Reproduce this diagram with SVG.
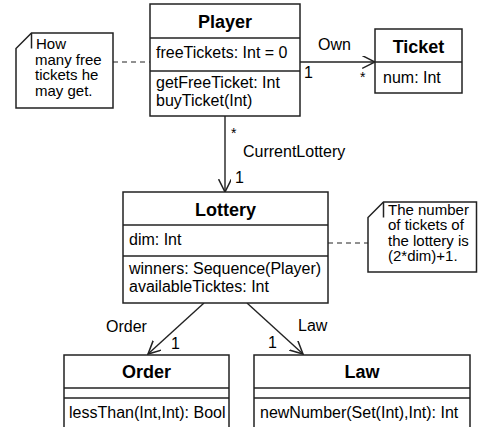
<svg xmlns="http://www.w3.org/2000/svg" width="479" height="427" viewBox="0 0 479 427">
<style>
  text { font-family: "Liberation Sans", Arial, Helvetica, sans-serif; font-size: 16px; fill: #000; }
  .title { font-weight: bold; font-size: 18px; text-anchor: middle; }
  .small { font-size: 14px; }
  .nt { font-size: 15px; }
  .box { fill: #fff; stroke: #222; stroke-width: 1.5; }
  .sep { stroke: #222; stroke-width: 1.5; fill: none; }
  .note { fill: #fff; stroke: #222; stroke-width: 1.5; }
  .conn { stroke: #222; stroke-width: 1.4; fill: none; }
  .dash { stroke: #222; stroke-width: 1; fill: none; stroke-dasharray: 5 4; }
</style>
<defs>
  <marker id="open" markerUnits="userSpaceOnUse" markerWidth="14" markerHeight="14" viewBox="0 0 12 12" refX="11" refY="5.5" orient="auto">
    <path d="M0,0 L11,5.5 L0,11" fill="none" stroke="#222" stroke-width="1.3"/>
  </marker>
</defs>
<rect width="479" height="427" fill="#fff"/>

<g id="connectors">
  <line class="conn" x1="300" y1="62" x2="375" y2="62" marker-end="url(#open)"/>
  <line class="conn" x1="225" y1="116" x2="225" y2="192" marker-end="url(#open)"/>
  <line class="conn" x1="204" y1="303" x2="148" y2="354" marker-end="url(#open)"/>
  <line class="conn" x1="247" y1="303" x2="303" y2="354" marker-end="url(#open)"/>
  <line class="dash" x1="113" y1="62" x2="150" y2="62"/>
  <line class="dash" x1="328" y1="243" x2="368" y2="243"/>
  <text x="318" y="50">Own</text>
  <text x="304" y="78">1</text>
  <text x="360" y="82" class="small">*</text>
  <text x="231" y="138" class="small">*</text>
  <text x="243" y="157">CurrentLottery</text>
  <text x="235" y="183">1</text>
  <text x="106" y="332">Order</text>
  <text x="171" y="349">1</text>
  <text x="298" y="331">Law</text>
  <text x="268" y="348">1</text>
</g>

<g id="note-player">
  <path class="note" d="M31.5,33 L113,33 L113,108 L16,108 L16,48.5 Z"/>
  <path class="sep" d="M31.5,33 V48.5" stroke-width="1"/>
  <text class="nt" x="36" y="49">How</text>
  <text class="nt" x="35" y="64.5">many free</text>
  <text class="nt" x="35" y="80">tickets he</text>
  <text class="nt" x="35" y="95.5">may get.</text>
</g>

<g id="Player">
  <rect class="box" x="150" y="4" width="150" height="112"/>
  <line class="sep" x1="150" y1="38" x2="300" y2="38"/>
  <line class="sep" x1="150" y1="71" x2="300" y2="71"/>
  <text class="title" x="225" y="28">Player</text>
  <text x="156" y="58">freeTickets: Int = 0</text>
  <text x="156" y="88">getFreeTicket: Int</text>
  <text x="156" y="106">buyTicket(Int)</text>
</g>

<g id="Ticket">
  <rect class="box" x="375" y="29" width="87" height="64"/>
  <line class="sep" x1="375" y1="62" x2="462" y2="62"/>
  <text class="title" x="418.5" y="53">Ticket</text>
  <text x="383" y="83">num: Int</text>
</g>

<g id="Lottery">
  <rect class="box" x="123" y="192" width="205" height="111"/>
  <line class="sep" x1="123" y1="225" x2="328" y2="225"/>
  <line class="sep" x1="123" y1="256" x2="328" y2="256"/>
  <text class="title" x="225.5" y="216">Lottery</text>
  <text x="129" y="245">dim: Int</text>
  <text x="129" y="274">winners: Sequence(Player)</text>
  <text x="129" y="292">availableTicktes: Int</text>
</g>

<g id="note-lottery">
  <path class="note" d="M383.5,202 L476.5,202 L476.5,272 L368,272 L368,217.5 Z"/>
  <path class="sep" d="M383.5,202 V217.5" stroke-width="1"/>
  <text class="nt" x="388" y="214.5">The number</text>
  <text class="nt" x="388" y="230">of tickets of</text>
  <text class="nt" x="388" y="245.5">the lottery is</text>
  <text class="nt" x="388" y="261">(2*dim)+1.</text>
</g>

<g id="Order">
  <rect class="box" x="64" y="355" width="165" height="80"/>
  <line class="sep" x1="64" y1="388" x2="229" y2="388"/>
  <line class="sep" x1="64" y1="398" x2="229" y2="398"/>
  <text class="title" x="146.5" y="378">Order</text>
  <text x="69" y="418">lessThan(Int,Int): Bool</text>
</g>

<g id="Law">
  <rect class="box" x="254" y="355" width="216" height="80"/>
  <line class="sep" x1="254" y1="388" x2="470" y2="388"/>
  <line class="sep" x1="254" y1="398" x2="470" y2="398"/>
  <text class="title" x="362" y="378">Law</text>
  <text x="260" y="418">newNumber(Set(Int),Int): Int</text>
</g>
</svg>
